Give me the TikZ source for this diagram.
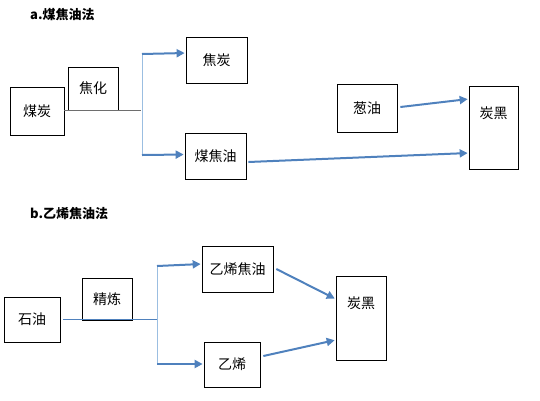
\documentclass[tikz,border=0pt]{standalone}
\usepackage{fontspec}
\setmainfont{Noto Sans CJK SC}
\usetikzlibrary{arrows.meta}
\begin{document}
\begin{tikzpicture}[x=1pt, y=-1pt,
  box/.style 2 args = {draw = black, line width = 0.7pt, inner sep = 0pt, minimum width = #1, minimum height = #2, font = \fontsize{14}{16}\selectfont},
  boxtext/.style = {inner sep = 0pt, font = \fontsize{14}{16}\selectfont},
  title/.style = {anchor = west, inner sep = 0pt, font = \fontsize{13}{15}\selectfont\bfseries},
  flow/.style = {draw = arrowblue, line width = 2pt, -{Triangle[length = 8pt, width = 8pt]}, shorten > = 1pt},
  fork/.style = {draw = forkblue, line width = 1pt}]
\definecolor{arrowblue}{RGB}{79,129,189}
\definecolor{forkblue}{RGB}{155,190,225}
\definecolor{feedgray}{RGB}{110,110,110}
\useasboundingbox (0,0) rectangle (540,400);
% a
\node[title] (titleA) at (30,15) {a.煤焦油法};
\node[box = {54pt}{48pt}] (meitan) at (37,111) {煤炭};
\node[box = {50pt}{43pt}] (jiaohua) at (93,88.5) {焦化};
\node[box = {61pt}{46pt}] (jiaotan) at (216.5,60) {焦炭};
\node[box = {61pt}{46pt}] (meijiaoyou) at (215.5,156) {煤焦油};
\node[box = {60pt}{48pt}] (congyou) at (367,108) {葱油};
\node[box = {49pt}{83pt}] (tanheiA) at (493.5,127.5) {};
\node[boxtext] (tanheiAtext) at (493.5,113) {炭黑};
\coordinate (forkA) at (141,110);
\coordinate (forkAtop) at (142,54);
\coordinate (forkAbot) at (142,155);
\draw[draw = feedgray, line width = 0.8pt] (meitan.east |- forkA) -- (forkA);
\draw[fork] (forkAtop) -- (forkAbot);
\draw[flow] (forkAtop) -- ([yshift = 7pt]jiaotan.west);
\draw[flow] (forkAbot) -- ([yshift = 1.5pt]meijiaoyou.west);
\draw[flow] ([xshift = 2pt, yshift = -6pt]meijiaoyou.east) -- ([yshift = -25.5pt]tanheiA.west);
\draw[flow] ([xshift = 3pt, yshift = 1pt]congyou.east) -- ([yshift = 28.5pt]tanheiA.west);
% b
\node[title] (titleB) at (30,214) {b.乙烯焦油法};
\node[box = {56pt}{45pt}] (shiyou) at (32,319.5) {石油};
\node[box = {50pt}{42pt}] (jinglian) at (107,299) {精炼};
\node[box = {71pt}{46pt}] (yixijiaoyou) at (237.5,269) {乙烯焦油};
\node[box = {56pt}{45pt}] (yixi) at (232,364.5) {乙烯};
\node[box = {50pt}{84pt}] (tanheiB) at (361,318) {};
\node[boxtext] (tanheiBtext) at (361,303) {炭黑};
\coordinate (forkB) at (157,319.5);
\coordinate (forkBtop) at (157,266);
\coordinate (forkBbot) at (157,364);
\draw[draw = arrowblue, line width = 0.7pt] ([xshift = 3pt]shiyou.east) -- (forkB);
\draw[fork] (forkBtop) -- (forkBbot);
\draw[flow] (forkBtop) -- ([yshift = 5pt]yixijiaoyou.west);
\draw[flow] (forkBbot) -- ([yshift = 0.5pt]yixi.west);
\draw[flow] ([xshift = 3pt]yixijiaoyou.east) -- ([yshift = 19pt]tanheiB.west);
\draw[flow] ([xshift = 3pt, yshift = 8.5pt]yixi.east) -- ([yshift = -22pt]tanheiB.west);
\end{tikzpicture}
\end{document}
